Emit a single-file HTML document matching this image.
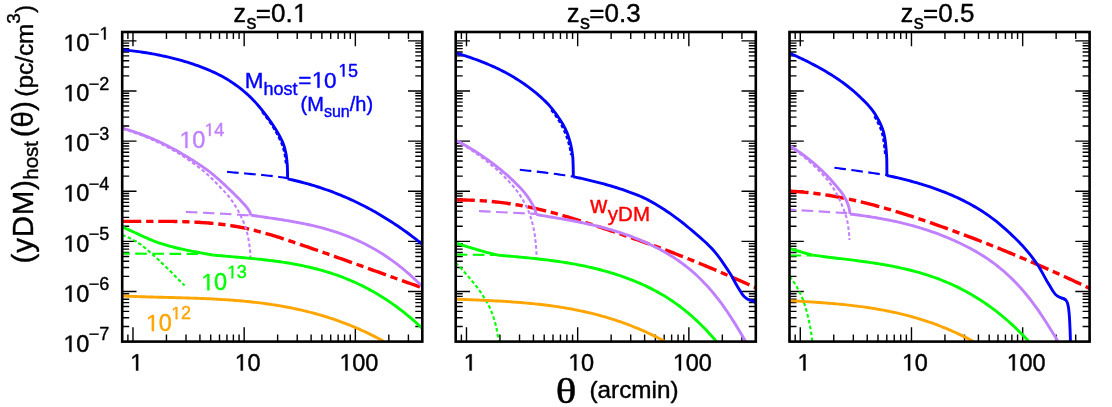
<!DOCTYPE html>
<html><head><meta charset="utf-8"><title>yDM host profiles</title>
<style>html,body{margin:0;padding:0;background:#fff;}svg{display:block;will-change:transform;}text{font-family:"Liberation Sans",sans-serif;fill:#000;stroke:#000;stroke-width:0.4px;stroke-linejoin:round;}.ser{font-family:"Liberation Serif",serif;}</style></head><body>
<svg width="1112" height="407" viewBox="0 0 1112 407">
<rect x="0" y="0" width="1112" height="407" fill="#ffffff"/>
<defs>
<clipPath id="cp0"><rect x="122.20" y="32.00" width="300.10" height="309.60"/></clipPath>
<clipPath id="cp1"><rect x="455.70" y="32.00" width="300.10" height="309.60"/></clipPath>
<clipPath id="cp2"><rect x="789.50" y="32.00" width="300.10" height="309.60"/></clipPath>
</defs>
<path d="M122.20 341.60v-7.00M122.20 32.00v7.00M127.89 341.60v-7.00M127.89 32.00v7.00M132.98 341.60v-14.30M132.98 32.00v14.30M166.45 341.60v-7.00M166.45 32.00v7.00M186.03 341.60v-7.00M186.03 32.00v7.00M199.92 341.60v-7.00M199.92 32.00v7.00M210.69 341.60v-7.00M210.69 32.00v7.00M219.50 341.60v-7.00M219.50 32.00v7.00M226.94 341.60v-7.00M226.94 32.00v7.00M233.39 341.60v-7.00M233.39 32.00v7.00M239.08 341.60v-7.00M239.08 32.00v7.00M244.17 341.60v-14.30M244.17 32.00v14.30M277.64 341.60v-7.00M277.64 32.00v7.00M297.22 341.60v-7.00M297.22 32.00v7.00M311.11 341.60v-7.00M311.11 32.00v7.00M321.88 341.60v-7.00M321.88 32.00v7.00M330.69 341.60v-7.00M330.69 32.00v7.00M338.13 341.60v-7.00M338.13 32.00v7.00M344.58 341.60v-7.00M344.58 32.00v7.00M350.27 341.60v-7.00M350.27 32.00v7.00M355.36 341.60v-14.30M355.36 32.00v14.30M388.83 341.60v-7.00M388.83 32.00v7.00M408.41 341.60v-7.00M408.41 32.00v7.00M422.30 341.60v-7.00M422.30 32.00v7.00M122.20 341.60h14.30M422.30 341.60h-14.30M122.20 326.51h7.00M422.30 326.51h-7.00M122.20 317.68h7.00M422.30 317.68h-7.00M122.20 311.42h7.00M422.30 311.42h-7.00M122.20 306.56h7.00M422.30 306.56h-7.00M122.20 302.59h7.00M422.30 302.59h-7.00M122.20 299.24h7.00M422.30 299.24h-7.00M122.20 296.33h7.00M422.30 296.33h-7.00M122.20 293.76h7.00M422.30 293.76h-7.00M122.20 291.47h14.30M422.30 291.47h-14.30M122.20 276.38h7.00M422.30 276.38h-7.00M122.20 267.55h7.00M422.30 267.55h-7.00M122.20 261.29h7.00M422.30 261.29h-7.00M122.20 256.43h7.00M422.30 256.43h-7.00M122.20 252.46h7.00M422.30 252.46h-7.00M122.20 249.11h7.00M422.30 249.11h-7.00M122.20 246.20h7.00M422.30 246.20h-7.00M122.20 243.64h7.00M422.30 243.64h-7.00M122.20 241.34h14.30M422.30 241.34h-14.30M122.20 226.25h7.00M422.30 226.25h-7.00M122.20 217.42h7.00M422.30 217.42h-7.00M122.20 211.16h7.00M422.30 211.16h-7.00M122.20 206.30h7.00M422.30 206.30h-7.00M122.20 202.33h7.00M422.30 202.33h-7.00M122.20 198.98h7.00M422.30 198.98h-7.00M122.20 196.07h7.00M422.30 196.07h-7.00M122.20 193.51h7.00M422.30 193.51h-7.00M122.20 191.21h14.30M422.30 191.21h-14.30M122.20 176.12h7.00M422.30 176.12h-7.00M122.20 167.30h7.00M422.30 167.30h-7.00M122.20 161.03h7.00M422.30 161.03h-7.00M122.20 156.18h7.00M422.30 156.18h-7.00M122.20 152.21h7.00M422.30 152.21h-7.00M122.20 148.85h7.00M422.30 148.85h-7.00M122.20 145.94h7.00M422.30 145.94h-7.00M122.20 143.38h7.00M422.30 143.38h-7.00M122.20 141.08h14.30M422.30 141.08h-14.30M122.20 125.99h7.00M422.30 125.99h-7.00M122.20 117.17h7.00M422.30 117.17h-7.00M122.20 110.90h7.00M422.30 110.90h-7.00M122.20 106.05h7.00M422.30 106.05h-7.00M122.20 102.08h7.00M422.30 102.08h-7.00M122.20 98.72h7.00M422.30 98.72h-7.00M122.20 95.81h7.00M422.30 95.81h-7.00M122.20 93.25h7.00M422.30 93.25h-7.00M122.20 90.96h14.30M422.30 90.96h-14.30M122.20 75.87h7.00M422.30 75.87h-7.00M122.20 67.04h7.00M422.30 67.04h-7.00M122.20 60.78h7.00M422.30 60.78h-7.00M122.20 55.92h7.00M422.30 55.92h-7.00M122.20 51.95h7.00M422.30 51.95h-7.00M122.20 48.59h7.00M422.30 48.59h-7.00M122.20 45.69h7.00M422.30 45.69h-7.00M122.20 43.12h7.00M422.30 43.12h-7.00M122.20 40.83h14.30M422.30 40.83h-14.30M455.70 341.60v-7.00M455.70 32.00v7.00M461.39 341.60v-7.00M461.39 32.00v7.00M466.48 341.60v-14.30M466.48 32.00v14.30M499.95 341.60v-7.00M499.95 32.00v7.00M519.53 341.60v-7.00M519.53 32.00v7.00M533.42 341.60v-7.00M533.42 32.00v7.00M544.19 341.60v-7.00M544.19 32.00v7.00M553.00 341.60v-7.00M553.00 32.00v7.00M560.44 341.60v-7.00M560.44 32.00v7.00M566.89 341.60v-7.00M566.89 32.00v7.00M572.58 341.60v-7.00M572.58 32.00v7.00M577.67 341.60v-14.30M577.67 32.00v14.30M611.14 341.60v-7.00M611.14 32.00v7.00M630.72 341.60v-7.00M630.72 32.00v7.00M644.61 341.60v-7.00M644.61 32.00v7.00M655.38 341.60v-7.00M655.38 32.00v7.00M664.19 341.60v-7.00M664.19 32.00v7.00M671.63 341.60v-7.00M671.63 32.00v7.00M678.08 341.60v-7.00M678.08 32.00v7.00M683.77 341.60v-7.00M683.77 32.00v7.00M688.86 341.60v-14.30M688.86 32.00v14.30M722.33 341.60v-7.00M722.33 32.00v7.00M741.91 341.60v-7.00M741.91 32.00v7.00M755.80 341.60v-7.00M755.80 32.00v7.00M455.70 341.60h14.30M755.80 341.60h-14.30M455.70 326.51h7.00M755.80 326.51h-7.00M455.70 317.68h7.00M755.80 317.68h-7.00M455.70 311.42h7.00M755.80 311.42h-7.00M455.70 306.56h7.00M755.80 306.56h-7.00M455.70 302.59h7.00M755.80 302.59h-7.00M455.70 299.24h7.00M755.80 299.24h-7.00M455.70 296.33h7.00M755.80 296.33h-7.00M455.70 293.76h7.00M755.80 293.76h-7.00M455.70 291.47h14.30M755.80 291.47h-14.30M455.70 276.38h7.00M755.80 276.38h-7.00M455.70 267.55h7.00M755.80 267.55h-7.00M455.70 261.29h7.00M755.80 261.29h-7.00M455.70 256.43h7.00M755.80 256.43h-7.00M455.70 252.46h7.00M755.80 252.46h-7.00M455.70 249.11h7.00M755.80 249.11h-7.00M455.70 246.20h7.00M755.80 246.20h-7.00M455.70 243.64h7.00M755.80 243.64h-7.00M455.70 241.34h14.30M755.80 241.34h-14.30M455.70 226.25h7.00M755.80 226.25h-7.00M455.70 217.42h7.00M755.80 217.42h-7.00M455.70 211.16h7.00M755.80 211.16h-7.00M455.70 206.30h7.00M755.80 206.30h-7.00M455.70 202.33h7.00M755.80 202.33h-7.00M455.70 198.98h7.00M755.80 198.98h-7.00M455.70 196.07h7.00M755.80 196.07h-7.00M455.70 193.51h7.00M755.80 193.51h-7.00M455.70 191.21h14.30M755.80 191.21h-14.30M455.70 176.12h7.00M755.80 176.12h-7.00M455.70 167.30h7.00M755.80 167.30h-7.00M455.70 161.03h7.00M755.80 161.03h-7.00M455.70 156.18h7.00M755.80 156.18h-7.00M455.70 152.21h7.00M755.80 152.21h-7.00M455.70 148.85h7.00M755.80 148.85h-7.00M455.70 145.94h7.00M755.80 145.94h-7.00M455.70 143.38h7.00M755.80 143.38h-7.00M455.70 141.08h14.30M755.80 141.08h-14.30M455.70 125.99h7.00M755.80 125.99h-7.00M455.70 117.17h7.00M755.80 117.17h-7.00M455.70 110.90h7.00M755.80 110.90h-7.00M455.70 106.05h7.00M755.80 106.05h-7.00M455.70 102.08h7.00M755.80 102.08h-7.00M455.70 98.72h7.00M755.80 98.72h-7.00M455.70 95.81h7.00M755.80 95.81h-7.00M455.70 93.25h7.00M755.80 93.25h-7.00M455.70 90.96h14.30M755.80 90.96h-14.30M455.70 75.87h7.00M755.80 75.87h-7.00M455.70 67.04h7.00M755.80 67.04h-7.00M455.70 60.78h7.00M755.80 60.78h-7.00M455.70 55.92h7.00M755.80 55.92h-7.00M455.70 51.95h7.00M755.80 51.95h-7.00M455.70 48.59h7.00M755.80 48.59h-7.00M455.70 45.69h7.00M755.80 45.69h-7.00M455.70 43.12h7.00M755.80 43.12h-7.00M455.70 40.83h14.30M755.80 40.83h-14.30M789.50 341.60v-7.00M789.50 32.00v7.00M795.19 341.60v-7.00M795.19 32.00v7.00M800.28 341.60v-14.30M800.28 32.00v14.30M833.75 341.60v-7.00M833.75 32.00v7.00M853.33 341.60v-7.00M853.33 32.00v7.00M867.22 341.60v-7.00M867.22 32.00v7.00M877.99 341.60v-7.00M877.99 32.00v7.00M886.80 341.60v-7.00M886.80 32.00v7.00M894.24 341.60v-7.00M894.24 32.00v7.00M900.69 341.60v-7.00M900.69 32.00v7.00M906.38 341.60v-7.00M906.38 32.00v7.00M911.47 341.60v-14.30M911.47 32.00v14.30M944.94 341.60v-7.00M944.94 32.00v7.00M964.52 341.60v-7.00M964.52 32.00v7.00M978.41 341.60v-7.00M978.41 32.00v7.00M989.18 341.60v-7.00M989.18 32.00v7.00M997.99 341.60v-7.00M997.99 32.00v7.00M1005.43 341.60v-7.00M1005.43 32.00v7.00M1011.88 341.60v-7.00M1011.88 32.00v7.00M1017.57 341.60v-7.00M1017.57 32.00v7.00M1022.66 341.60v-14.30M1022.66 32.00v14.30M1056.13 341.60v-7.00M1056.13 32.00v7.00M1075.71 341.60v-7.00M1075.71 32.00v7.00M1089.60 341.60v-7.00M1089.60 32.00v7.00M789.50 341.60h14.30M1089.60 341.60h-14.30M789.50 326.51h7.00M1089.60 326.51h-7.00M789.50 317.68h7.00M1089.60 317.68h-7.00M789.50 311.42h7.00M1089.60 311.42h-7.00M789.50 306.56h7.00M1089.60 306.56h-7.00M789.50 302.59h7.00M1089.60 302.59h-7.00M789.50 299.24h7.00M1089.60 299.24h-7.00M789.50 296.33h7.00M1089.60 296.33h-7.00M789.50 293.76h7.00M1089.60 293.76h-7.00M789.50 291.47h14.30M1089.60 291.47h-14.30M789.50 276.38h7.00M1089.60 276.38h-7.00M789.50 267.55h7.00M1089.60 267.55h-7.00M789.50 261.29h7.00M1089.60 261.29h-7.00M789.50 256.43h7.00M1089.60 256.43h-7.00M789.50 252.46h7.00M1089.60 252.46h-7.00M789.50 249.11h7.00M1089.60 249.11h-7.00M789.50 246.20h7.00M1089.60 246.20h-7.00M789.50 243.64h7.00M1089.60 243.64h-7.00M789.50 241.34h14.30M1089.60 241.34h-14.30M789.50 226.25h7.00M1089.60 226.25h-7.00M789.50 217.42h7.00M1089.60 217.42h-7.00M789.50 211.16h7.00M1089.60 211.16h-7.00M789.50 206.30h7.00M1089.60 206.30h-7.00M789.50 202.33h7.00M1089.60 202.33h-7.00M789.50 198.98h7.00M1089.60 198.98h-7.00M789.50 196.07h7.00M1089.60 196.07h-7.00M789.50 193.51h7.00M1089.60 193.51h-7.00M789.50 191.21h14.30M1089.60 191.21h-14.30M789.50 176.12h7.00M1089.60 176.12h-7.00M789.50 167.30h7.00M1089.60 167.30h-7.00M789.50 161.03h7.00M1089.60 161.03h-7.00M789.50 156.18h7.00M1089.60 156.18h-7.00M789.50 152.21h7.00M1089.60 152.21h-7.00M789.50 148.85h7.00M1089.60 148.85h-7.00M789.50 145.94h7.00M1089.60 145.94h-7.00M789.50 143.38h7.00M1089.60 143.38h-7.00M789.50 141.08h14.30M1089.60 141.08h-14.30M789.50 125.99h7.00M1089.60 125.99h-7.00M789.50 117.17h7.00M1089.60 117.17h-7.00M789.50 110.90h7.00M1089.60 110.90h-7.00M789.50 106.05h7.00M1089.60 106.05h-7.00M789.50 102.08h7.00M1089.60 102.08h-7.00M789.50 98.72h7.00M1089.60 98.72h-7.00M789.50 95.81h7.00M1089.60 95.81h-7.00M789.50 93.25h7.00M1089.60 93.25h-7.00M789.50 90.96h14.30M1089.60 90.96h-14.30M789.50 75.87h7.00M1089.60 75.87h-7.00M789.50 67.04h7.00M1089.60 67.04h-7.00M789.50 60.78h7.00M1089.60 60.78h-7.00M789.50 55.92h7.00M1089.60 55.92h-7.00M789.50 51.95h7.00M1089.60 51.95h-7.00M789.50 48.59h7.00M1089.60 48.59h-7.00M789.50 45.69h7.00M1089.60 45.69h-7.00M789.50 43.12h7.00M1089.60 43.12h-7.00M789.50 40.83h14.30M1089.60 40.83h-14.30" stroke="#000" stroke-width="1.4" fill="none"/>
<path d="M122.20 221.40L124.21 221.41L126.23 221.41L128.24 221.41L130.26 221.41L132.27 221.41L134.28 221.40L136.30 221.40L138.31 221.39L140.33 221.38L142.34 221.37L144.36 221.36L146.37 221.35L148.38 221.35L150.40 221.34L152.41 221.33L154.43 221.33L156.44 221.33L158.45 221.33L160.47 221.33L162.48 221.34L164.50 221.35L166.51 221.36L168.52 221.38L170.54 221.40L172.55 221.42L174.57 221.45L176.58 221.49L178.59 221.53L180.61 221.58L182.62 221.63L184.64 221.69L186.65 221.76L188.67 221.83L190.68 221.91L192.69 222.00L194.71 222.10L196.72 222.21L198.74 222.32L200.75 222.45L202.76 222.58L204.78 222.73L206.79 222.88L208.81 223.05L210.82 223.22L212.83 223.41L214.85 223.61L216.86 223.82L218.88 224.04L220.89 224.28L222.90 224.53L224.92 224.79L226.93 225.06L228.95 225.35L230.96 225.65L232.98 225.97L234.99 226.30L237.00 226.65L239.02 227.02L241.03 227.39L243.05 227.79L245.06 228.20L247.07 228.63L249.09 229.08L251.10 229.54L253.12 230.02L255.13 230.52L257.14 231.03L259.16 231.56L261.17 232.10L263.19 232.65L265.20 233.22L267.21 233.80L269.23 234.39L271.24 234.99L273.26 235.60L275.27 236.22L277.29 236.85L279.30 237.49L281.31 238.14L283.33 238.79L285.34 239.45L287.36 240.12L289.37 240.79L291.38 241.46L293.40 242.14L295.41 242.82L297.43 243.50L299.44 244.19L301.45 244.88L303.47 245.57L305.48 246.26L307.50 246.95L309.51 247.65L311.52 248.34L313.54 249.04L315.55 249.74L317.57 250.44L319.58 251.15L321.60 251.85L323.61 252.56L325.62 253.27L327.64 253.97L329.65 254.68L331.67 255.40L333.68 256.11L335.69 256.82L337.71 257.54L339.72 258.25L341.74 258.97L343.75 259.69L345.76 260.41L347.78 261.13L349.79 261.85L351.81 262.57L353.82 263.29L355.83 264.01L357.85 264.73L359.86 265.46L361.88 266.18L363.89 266.90L365.91 267.63L367.92 268.35L369.93 269.08L371.95 269.80L373.96 270.53L375.98 271.25L377.99 271.97L380.00 272.70L382.02 273.42L384.03 274.15L386.05 274.87L388.06 275.59L390.07 276.32L392.09 277.04L394.10 277.76L396.12 278.48L398.13 279.20L400.14 279.93L402.16 280.64L404.17 281.36L406.19 282.08L408.20 282.80L410.22 283.51L412.23 284.23L414.24 284.94L416.26 285.66L418.27 286.37L420.29 287.08L422.30 287.79" fill="none" stroke="#ff0000" stroke-width="3.4" stroke-dasharray="19.1 4.85 7.3 4.85" stroke-linejoin="round" clip-path="url(#cp0)"/>
<path d="M455.70 200.00L457.72 199.99L459.73 199.99L461.75 200.00L463.76 200.03L465.78 200.06L467.79 200.11L469.81 200.16L471.82 200.23L473.84 200.31L475.85 200.40L477.87 200.51L479.89 200.62L481.90 200.75L483.92 200.88L485.93 201.03L487.95 201.19L489.96 201.37L491.98 201.55L493.99 201.75L496.01 201.96L498.02 202.18L500.04 202.41L502.06 202.65L504.07 202.91L506.09 203.18L508.10 203.46L510.12 203.75L512.13 204.05L514.15 204.37L516.16 204.70L518.18 205.04L520.19 205.39L522.21 205.75L524.22 206.13L526.24 206.52L528.26 206.92L530.27 207.33L532.29 207.76L534.30 208.20L536.32 208.65L538.33 209.11L540.35 209.58L542.36 210.06L544.38 210.56L546.39 211.06L548.41 211.58L550.43 212.10L552.44 212.64L554.46 213.18L556.47 213.73L558.49 214.29L560.50 214.86L562.52 215.43L564.53 216.02L566.55 216.61L568.56 217.21L570.58 217.81L572.60 218.42L574.61 219.04L576.63 219.66L578.64 220.29L580.66 220.92L582.67 221.56L584.69 222.20L586.70 222.85L588.72 223.50L590.73 224.15L592.75 224.81L594.77 225.47L596.78 226.13L598.80 226.79L600.81 227.46L602.83 228.13L604.84 228.80L606.86 229.47L608.87 230.14L610.89 230.81L612.90 231.49L614.92 232.17L616.93 232.84L618.95 233.52L620.97 234.21L622.98 234.89L625.00 235.58L627.01 236.26L629.03 236.96L631.04 237.65L633.06 238.34L635.07 239.04L637.09 239.74L639.10 240.45L641.12 241.16L643.14 241.87L645.15 242.58L647.17 243.30L649.18 244.02L651.20 244.74L653.21 245.47L655.23 246.20L657.24 246.93L659.26 247.67L661.27 248.42L663.29 249.16L665.31 249.91L667.32 250.67L669.34 251.43L671.35 252.19L673.37 252.96L675.38 253.74L677.40 254.51L679.41 255.30L681.43 256.08L683.44 256.88L685.46 257.67L687.48 258.48L689.49 259.28L691.51 260.09L693.52 260.91L695.54 261.73L697.55 262.55L699.57 263.38L701.58 264.21L703.60 265.05L705.61 265.89L707.63 266.73L709.64 267.58L711.66 268.43L713.68 269.28L715.69 270.14L717.71 271.00L719.72 271.87L721.74 272.73L723.75 273.60L725.77 274.47L727.78 275.35L729.80 276.22L731.81 277.10L733.83 277.98L735.85 278.87L737.86 279.75L739.88 280.64L741.89 281.53L743.91 282.42L745.92 283.32L747.94 284.21L749.95 285.11L751.97 286.01L753.98 286.90L756.00 287.80" fill="none" stroke="#ff0000" stroke-width="3.4" stroke-dasharray="19.1 4.85 7.3 4.85" stroke-linejoin="round" clip-path="url(#cp1)"/>
<path d="M789.50 191.19L791.51 191.29L793.53 191.40L795.54 191.53L797.56 191.67L799.57 191.82L801.58 191.99L803.60 192.16L805.61 192.35L807.63 192.55L809.64 192.77L811.66 192.99L813.67 193.23L815.68 193.48L817.70 193.74L819.71 194.01L821.73 194.30L823.74 194.59L825.75 194.90L827.77 195.22L829.78 195.54L831.80 195.88L833.81 196.23L835.82 196.59L837.84 196.96L839.85 197.34L841.87 197.73L843.88 198.13L845.89 198.54L847.91 198.96L849.92 199.39L851.94 199.82L853.95 200.27L855.97 200.73L857.98 201.19L859.99 201.66L862.01 202.15L864.02 202.64L866.04 203.14L868.05 203.64L870.06 204.16L872.08 204.68L874.09 205.21L876.11 205.75L878.12 206.30L880.13 206.85L882.15 207.41L884.16 207.98L886.18 208.56L888.19 209.14L890.20 209.73L892.22 210.32L894.23 210.93L896.25 211.53L898.26 212.15L900.28 212.77L902.29 213.40L904.30 214.03L906.32 214.67L908.33 215.31L910.35 215.96L912.36 216.61L914.37 217.27L916.39 217.94L918.40 218.61L920.42 219.28L922.43 219.96L924.44 220.65L926.46 221.33L928.47 222.03L930.49 222.72L932.50 223.42L934.51 224.13L936.53 224.83L938.54 225.54L940.56 226.26L942.57 226.98L944.59 227.70L946.60 228.42L948.61 229.15L950.63 229.88L952.64 230.62L954.66 231.36L956.67 232.10L958.68 232.84L960.70 233.59L962.71 234.34L964.73 235.10L966.74 235.86L968.75 236.62L970.77 237.39L972.78 238.15L974.80 238.93L976.81 239.70L978.82 240.48L980.84 241.26L982.85 242.05L984.87 242.84L986.88 243.63L988.90 244.43L990.91 245.23L992.92 246.03L994.94 246.83L996.95 247.64L998.97 248.45L1000.98 249.27L1002.99 250.09L1005.01 250.91L1007.02 251.73L1009.04 252.56L1011.05 253.39L1013.06 254.23L1015.08 255.07L1017.09 255.91L1019.11 256.75L1021.12 257.60L1023.13 258.45L1025.15 259.31L1027.16 260.16L1029.18 261.02L1031.19 261.89L1033.21 262.75L1035.22 263.62L1037.23 264.50L1039.25 265.37L1041.26 266.25L1043.28 267.14L1045.29 268.02L1047.30 268.91L1049.32 269.80L1051.33 270.70L1053.35 271.60L1055.36 272.50L1057.37 273.41L1059.39 274.31L1061.40 275.22L1063.42 276.14L1065.43 277.06L1067.44 277.98L1069.46 278.90L1071.47 279.83L1073.49 280.76L1075.50 281.69L1077.52 282.62L1079.53 283.56L1081.54 284.50L1083.56 285.45L1085.57 286.40L1087.59 287.35L1089.60 288.30" fill="none" stroke="#ff0000" stroke-width="3.4" stroke-dasharray="19.1 4.85 7.3 4.85" stroke-linejoin="round" clip-path="url(#cp2)"/>
<path d="M122.20 49.80L124.23 49.98L126.26 50.18L128.28 50.39L130.31 50.61L132.33 50.85L134.35 51.10L136.37 51.36L138.38 51.63L140.40 51.91L142.41 52.19L144.42 52.49L146.43 52.80L148.43 53.12L150.44 53.45L152.44 53.81L154.44 54.18L156.45 54.56L158.44 54.96L160.44 55.37L162.43 55.80L164.42 56.23L166.41 56.68L168.39 57.14L170.37 57.60L172.34 58.08L174.31 58.57L176.28 59.08L178.25 59.60L180.21 60.14L182.18 60.70L184.14 61.27L186.09 61.86L188.04 62.46L189.98 63.08L191.91 63.71L193.84 64.36L195.76 65.02L197.67 65.70L199.57 66.39L201.48 67.10L203.39 67.83L205.29 68.59L207.19 69.36L209.08 70.15L210.96 70.97L212.83 71.80L214.68 72.66L216.52 73.54L218.35 74.44L220.15 75.36L221.92 76.30L223.68 77.27L225.42 78.27L227.16 79.30L228.90 80.37L230.62 81.48L232.33 82.61L234.03 83.77L235.71 84.96L237.38 86.17L239.03 87.41L240.65 88.67L242.25 89.95L243.83 91.25L245.38 92.56L246.90 93.89L248.39 95.24L249.85 96.60L251.28 97.99L252.70 99.42L254.09 100.89L255.47 102.38L256.83 103.90L258.16 105.45L259.48 107.02L260.79 108.61L262.07 110.21L263.34 111.83L264.59 113.46L265.83 115.10L267.05 116.74L268.26 118.39L269.45 120.03L270.63 121.68L271.79 123.34L272.95 125.02L274.08 126.72L275.18 128.44L276.26 130.18L277.30 131.93L278.30 133.70L279.25 135.48L280.21 137.28L281.15 139.11L282.05 140.96L282.88 142.82L283.62 144.71L284.24 146.62L284.77 148.57L285.26 150.54L285.71 152.54L286.10 154.55L286.42 156.57L286.67 158.58L286.88 160.60L287.07 162.63L287.23 164.66L287.35 166.70L287.42 168.73L287.48 170.76L287.53 172.79L287.57 174.83L287.59 176.86L287.60 178.90" fill="none" stroke="#0000ff" stroke-width="2.9" stroke-linejoin="round" clip-path="url(#cp0)"/>
<path d="M287.60 178.90L289.64 179.34L291.68 179.79L293.72 180.26L295.76 180.74L297.80 181.23L299.85 181.74L301.89 182.27L303.93 182.80L305.97 183.36L308.01 183.93L310.05 184.51L312.09 185.11L314.13 185.73L316.17 186.36L318.21 187.00L320.25 187.67L322.30 188.34L324.34 189.04L326.38 189.75L328.42 190.48L330.46 191.22L332.50 191.98L334.54 192.76L336.58 193.56L338.62 194.37L340.66 195.20L342.70 196.04L344.75 196.91L346.79 197.79L348.83 198.69L350.87 199.61L352.91 200.55L354.95 201.50L356.99 202.48L359.03 203.47L361.07 204.48L363.11 205.51L365.15 206.56L367.20 207.63L369.24 208.72L371.28 209.83L373.32 210.95L375.36 212.10L377.40 213.27L379.44 214.46L381.48 215.66L383.52 216.89L385.56 218.14L387.60 219.41L389.65 220.70L391.69 222.01L393.73 223.34L395.77 224.70L397.81 226.07L399.85 227.47L401.89 228.89L403.93 230.33L405.97 231.79L408.01 233.27L410.05 234.78L412.10 236.31L414.14 237.86L416.18 239.43L418.22 241.03L420.26 242.65L422.30 244.30" fill="none" stroke="#0000ff" stroke-width="2.9" stroke-linejoin="round" clip-path="url(#cp0)"/>
<path d="M227.10 171.90L229.19 172.07L231.27 172.25L233.36 172.43L235.44 172.61L237.53 172.79L239.62 172.97L241.70 173.15L243.79 173.34L245.88 173.53L247.96 173.71L250.05 173.90L252.13 174.09L254.22 174.28L256.31 174.46L258.39 174.65L260.48 174.84L262.57 175.04L264.65 175.24L266.74 175.45L268.82 175.67L270.91 175.90L273.00 176.15L275.08 176.41L277.17 176.68L279.26 176.97L281.34 177.26L283.43 177.57L285.51 177.88L287.60 178.20" fill="none" stroke="#0000ff" stroke-width="2.1" stroke-dasharray="11.6 5.5" stroke-linejoin="round" clip-path="url(#cp0)"/>
<path d="M262.00 112.00L263.36 113.65L264.70 115.32L266.01 117.00L267.28 118.71L268.52 120.44L269.73 122.19L270.91 123.96L272.07 125.74L273.21 127.55L274.33 129.38L275.42 131.22L276.47 133.08L277.47 134.96L278.42 136.85L279.35 138.76L280.27 140.70L281.14 142.66L281.94 144.65L282.65 146.65L283.25 148.68L283.79 150.73L284.28 152.82L284.71 154.91L285.06 157.02L285.34 159.13L285.58 161.24L285.77 163.37L285.90 165.50" fill="none" stroke="#0000ff" stroke-width="2.1" stroke-dasharray="3.6 2.4" stroke-linejoin="round" clip-path="url(#cp0)"/>
<path d="M122.20 128.20L124.16 128.75L126.12 129.31L128.06 129.89L130.01 130.48L131.94 131.10L133.87 131.73L135.80 132.37L137.72 133.03L139.63 133.71L141.53 134.40L143.44 135.12L145.33 135.85L147.22 136.60L149.11 137.37L150.98 138.15L152.85 138.95L154.72 139.76L156.57 140.58L158.42 141.41L160.26 142.27L162.10 143.14L163.93 144.03L165.75 144.93L167.56 145.85L169.37 146.78L171.17 147.72L172.96 148.67L174.75 149.64L176.53 150.61L178.30 151.60L180.06 152.61L181.82 153.63L183.57 154.67L185.31 155.71L187.05 156.77L188.78 157.84L190.50 158.91L192.22 160.00L193.93 161.09L195.65 162.18L197.36 163.28L199.06 164.40L200.76 165.52L202.45 166.66L204.12 167.82L205.78 168.99L207.42 170.18L209.04 171.39L210.64 172.63L212.22 173.89L213.78 175.18L215.33 176.49L216.87 177.82L218.39 179.17L219.91 180.53L221.41 181.90L222.91 183.28L224.40 184.67L225.88 186.07L227.36 187.46L228.83 188.86L230.31 190.26L231.77 191.66L233.23 193.07L234.68 194.50L236.12 195.93L237.55 197.38L238.96 198.84L240.36 200.31L241.75 201.79L243.15 203.28L244.55 204.77L245.90 206.30L247.18 207.87L248.35 209.51L249.48 211.24L250.21 213.09L250.60 215.10" fill="none" stroke="#c080ff" stroke-width="2.9" stroke-linejoin="round" clip-path="url(#cp0)"/>
<path d="M250.60 215.10L252.64 215.40L254.69 215.71L256.73 216.01L258.78 216.31L260.82 216.61L262.86 216.91L264.91 217.21L266.95 217.51L269.00 217.81L271.04 218.12L273.08 218.42L275.13 218.73L277.17 219.04L279.22 219.35L281.26 219.67L283.30 220.00L285.35 220.33L287.39 220.67L289.44 221.01L291.48 221.36L293.52 221.72L295.57 222.09L297.61 222.47L299.66 222.86L301.70 223.26L303.75 223.67L305.79 224.09L307.83 224.52L309.88 224.97L311.92 225.43L313.97 225.91L316.01 226.39L318.05 226.90L320.10 227.42L322.14 227.95L324.19 228.51L326.23 229.08L328.27 229.67L330.32 230.28L332.36 230.90L334.41 231.55L336.45 232.22L338.49 232.91L340.54 233.62L342.58 234.35L344.63 235.11L346.67 235.89L348.71 236.69L350.76 237.52L352.80 238.37L354.85 239.25L356.89 240.15L358.93 241.09L360.98 242.05L363.02 243.03L365.07 244.05L367.11 245.10L369.15 246.17L371.20 247.28L373.24 248.42L375.29 249.59L377.33 250.79L379.38 252.02L381.42 253.29L383.46 254.59L385.51 255.93L387.55 257.30L389.60 258.71L391.64 260.16L393.68 261.64L395.73 263.16L397.77 264.71L399.82 266.31L401.86 267.95L403.90 269.62L405.95 271.34L407.99 273.09L410.04 274.89L412.08 276.73L414.12 278.62L416.17 280.54L418.21 282.51L420.26 284.53L422.30 286.59" fill="none" stroke="#c080ff" stroke-width="2.9" stroke-linejoin="round" clip-path="url(#cp0)"/>
<path d="M122.20 128.80L124.16 129.37L126.12 129.95L128.07 130.56L130.01 131.18L131.95 131.81L133.88 132.47L135.80 133.14L137.71 133.82L139.62 134.53L141.53 135.25L143.42 135.99L145.32 136.75L147.20 137.53L149.08 138.33L150.96 139.14L152.82 139.97L154.68 140.81L156.52 141.66L158.37 142.52L160.20 143.41L162.03 144.31L163.86 145.22L165.67 146.16L167.48 147.11L169.28 148.07L171.07 149.06L172.84 150.05L174.61 151.06L176.36 152.09L178.11 153.13L179.85 154.20L181.58 155.28L183.30 156.38L185.01 157.50L186.71 158.63L188.40 159.78L190.08 160.94L191.74 162.11L193.39 163.30L195.03 164.50L196.66 165.72L198.28 166.96L199.89 168.22L201.49 169.49L203.08 170.78L204.65 172.09L206.20 173.41L207.74 174.74L209.26 176.10L210.75 177.47L212.22 178.88L213.66 180.31L215.09 181.77L216.51 183.25L217.91 184.73L219.32 186.21L220.72 187.68L222.14 189.16L223.55 190.64L224.95 192.13L226.32 193.64L227.66 195.18L228.94 196.74L230.18 198.35L231.39 199.99L232.57 201.66L233.71 203.35L234.83 205.07L235.91 206.80L236.94 208.55L237.94 210.32L238.90 212.12L239.82 213.94L240.72 215.78L241.57 217.63L242.41 219.49L243.23 221.35L244.05 223.24L244.81 225.13L245.51 227.04L246.11 228.98L246.65 230.93L247.15 232.91L247.61 234.90L248.03 236.90L248.41 238.91L248.75 240.92L249.07 242.93L249.37 244.95L249.65 246.97L249.90 249.00L250.11 251.03L250.27 253.06L250.38 255.09L250.48 257.12L250.56 259.16L250.60 261.20" fill="none" stroke="#c080ff" stroke-width="2.1" stroke-dasharray="3.6 2.4" stroke-linejoin="round" clip-path="url(#cp0)"/>
<path d="M185.80 211.90L187.89 211.99L189.98 212.08L192.07 212.18L194.16 212.28L196.25 212.37L198.34 212.47L200.43 212.58L202.52 212.68L204.61 212.78L206.70 212.89L208.79 213.00L210.88 213.11L212.97 213.22L215.06 213.33L217.15 213.44L219.25 213.56L221.34 213.67L223.43 213.79L225.52 213.91L227.61 214.03L229.70 214.16L231.79 214.29L233.88 214.41L235.97 214.54L238.06 214.68L240.15 214.81L242.24 214.94L244.33 215.08L246.42 215.22L248.51 215.36L250.60 215.50" fill="none" stroke="#c080ff" stroke-width="2.1" stroke-dasharray="11.6 5.5" stroke-linejoin="round" clip-path="url(#cp0)"/>
<path d="M122.20 226.90L124.27 227.82L126.34 228.74L128.40 229.67L130.47 230.60L132.54 231.54L134.61 232.49L136.68 233.43L138.75 234.38L140.81 235.35L142.88 236.32L144.95 237.27L147.02 238.19L149.09 239.07L151.15 239.93L153.22 240.77L155.29 241.57L157.36 242.32L159.43 243.03L161.50 243.71L163.56 244.35L165.63 244.97L167.70 245.57L169.77 246.15L171.84 246.70L173.90 247.23L175.97 247.75L178.04 248.25L180.11 248.74L182.18 249.21L184.25 249.66L186.31 250.10L188.38 250.52L190.45 250.91L192.52 251.30L194.59 251.67L196.65 252.05L198.72 252.44L200.79 252.83L202.86 253.22L204.93 253.60L207.00 253.98L209.06 254.36L211.13 254.73L213.20 255.10" fill="none" stroke="#00ff00" stroke-width="2.9" stroke-linejoin="round" clip-path="url(#cp0)"/>
<path d="M213.20 255.09L215.23 255.27L217.26 255.45L219.29 255.63L221.32 255.81L223.35 255.98L225.38 256.15L227.41 256.33L229.44 256.50L231.47 256.67L233.50 256.84L235.53 257.02L237.56 257.19L239.59 257.37L241.62 257.54L243.65 257.72L245.68 257.91L247.71 258.09L249.74 258.28L251.77 258.47L253.80 258.67L255.83 258.87L257.86 259.08L259.89 259.29L261.92 259.51L263.95 259.73L265.98 259.96L268.01 260.20L270.04 260.44L272.07 260.70L274.10 260.96L276.13 261.23L278.16 261.51L280.19 261.79L282.22 262.09L284.25 262.40L286.28 262.72L288.31 263.04L290.34 263.38L292.37 263.74L294.40 264.10L296.43 264.48L298.46 264.86L300.49 265.27L302.52 265.68L304.55 266.11L306.58 266.56L308.61 267.02L310.64 267.49L312.67 267.98L314.70 268.48L316.73 269.01L318.77 269.55L320.80 270.10L322.83 270.67L324.86 271.27L326.89 271.88L328.92 272.50L330.95 273.15L332.98 273.82L335.01 274.50L337.04 275.21L339.07 275.94L341.10 276.69L343.13 277.46L345.16 278.25L347.19 279.06L349.22 279.90L351.25 280.76L353.28 281.64L355.31 282.55L357.34 283.48L359.37 284.44L361.40 285.42L363.43 286.42L365.46 287.46L367.49 288.51L369.52 289.60L371.55 290.71L373.58 291.85L375.61 293.01L377.64 294.21L379.67 295.43L381.70 296.68L383.73 297.96L385.76 299.27L387.79 300.62L389.82 301.99L391.85 303.39L393.88 304.82L395.91 306.29L397.94 307.78L399.97 309.31L402.00 310.87L404.03 312.47L406.06 314.10L408.09 315.76L410.12 317.46L412.15 319.19L414.18 320.95L416.21 322.76L418.24 324.60L420.27 326.47L422.30 328.38" fill="none" stroke="#00ff00" stroke-width="2.9" stroke-linejoin="round" clip-path="url(#cp0)"/>
<path d="M122.20 253.60L202.60 254.00" fill="none" stroke="#00ff00" stroke-width="2.1" stroke-dasharray="11.6 5.5" stroke-dashoffset="4.0" stroke-linejoin="round" clip-path="url(#cp0)"/>
<path d="M122.20 234.90L124.14 235.66L126.06 236.47L127.95 237.31L129.83 238.20L131.70 239.12L133.55 240.08L135.37 241.09L137.15 242.15L138.87 243.27L140.56 244.46L142.22 245.70L143.86 246.99L145.47 248.31L147.07 249.66L148.65 251.03L150.22 252.40L151.79 253.77L153.36 255.14L154.91 256.52L156.44 257.91L157.97 259.33L159.48 260.75L160.99 262.19L162.49 263.63L163.98 265.08L165.47 266.52L166.97 267.97L168.45 269.42L169.94 270.87L171.41 272.34L172.88 273.80L174.35 275.28L175.82 276.75L177.28 278.23L178.74 279.70L180.20 281.18L181.66 282.66L183.13 284.13L184.60 285.60" fill="none" stroke="#00ff00" stroke-width="2.1" stroke-dasharray="3.6 2.4" stroke-linejoin="round" clip-path="url(#cp0)"/>
<path d="M122.20 296.00L124.23 296.09L126.25 296.17L128.28 296.26L130.30 296.34L132.33 296.41L134.35 296.49L136.38 296.56L138.40 296.63L140.43 296.69L142.46 296.76L144.48 296.82L146.51 296.88L148.53 296.94L150.56 296.99L152.58 297.05L154.61 297.10L156.63 297.15L158.66 297.21L160.69 297.26L162.71 297.31L164.74 297.36L166.76 297.41L168.79 297.46L170.81 297.52L172.84 297.57L174.87 297.62L176.89 297.68L178.92 297.73L180.94 297.79L182.97 297.84L184.99 297.90L187.02 297.96L189.04 298.03L191.07 298.09L193.10 298.16L195.12 298.23L197.15 298.30L199.17 298.38L201.20 298.46L203.22 298.54L205.25 298.63L207.27 298.71L209.30 298.81L211.33 298.90L213.35 299.01L215.38 299.11L217.40 299.22L219.43 299.34L221.45 299.46L223.48 299.58L225.50 299.71L227.53 299.85L229.56 299.99L231.58 300.13L233.61 300.29L235.63 300.45L237.66 300.61L239.68 300.79L241.71 300.96L243.73 301.15L245.76 301.34L247.79 301.54L249.81 301.75L251.84 301.97L253.86 302.19L255.89 302.42L257.91 302.66L259.94 302.91L261.97 303.17L263.99 303.43L266.02 303.71L268.04 303.99L270.07 304.28L272.09 304.58L274.12 304.90L276.14 305.22L278.17 305.55L280.20 305.89L282.22 306.24L284.25 306.61L286.27 306.98L288.30 307.37L290.32 307.76L292.35 308.17L294.37 308.59L296.40 309.02L298.43 309.46L300.45 309.91L302.48 310.38L304.50 310.86L306.53 311.35L308.55 311.86L310.58 312.37L312.60 312.90L314.63 313.45L316.66 314.01L318.68 314.58L320.71 315.16L322.73 315.76L324.76 316.37L326.78 317.00L328.81 317.64L330.83 318.30L332.86 318.97L334.89 319.66L336.91 320.36L338.94 321.08L340.96 321.82L342.99 322.57L345.01 323.33L347.04 324.12L349.07 324.91L351.09 325.73L353.12 326.56L355.14 327.41L357.17 328.28L359.19 329.16L361.22 330.06L363.24 330.98L365.27 331.92L367.30 332.87L369.32 333.85L371.35 334.84L373.37 335.85L375.40 336.88L377.42 337.93L379.45 339.00L381.47 340.08L383.50 341.19" fill="none" stroke="#ffa500" stroke-width="2.9" stroke-linejoin="round" clip-path="url(#cp0)"/>
<path d="M455.70 52.90L457.67 53.47L459.63 54.06L461.59 54.66L463.54 55.27L465.49 55.90L467.43 56.54L469.36 57.20L471.29 57.87L473.21 58.55L475.13 59.25L477.04 59.95L478.95 60.67L480.85 61.40L482.75 62.15L484.64 62.91L486.54 63.69L488.43 64.48L490.31 65.28L492.19 66.10L494.07 66.94L495.93 67.79L497.78 68.67L499.62 69.55L501.45 70.46L503.26 71.38L505.06 72.32L506.85 73.27L508.63 74.25L510.41 75.26L512.18 76.29L513.94 77.34L515.70 78.41L517.44 79.50L519.17 80.61L520.89 81.74L522.59 82.88L524.28 84.05L525.95 85.23L527.60 86.43L529.24 87.64L530.85 88.87L532.44 90.11L534.03 91.38L535.62 92.67L537.21 93.99L538.78 95.33L540.34 96.69L541.88 98.08L543.40 99.48L544.88 100.91L546.34 102.37L547.76 103.84L549.13 105.33L550.46 106.85L551.75 108.39L552.99 109.95L554.23 111.54L555.47 113.17L556.69 114.83L557.89 116.52L559.06 118.23L560.21 119.97L561.32 121.73L562.40 123.51L563.42 125.31L564.40 127.12L565.32 128.95L566.18 130.79L566.97 132.64L567.69 134.50L568.37 136.40L569.01 138.34L569.61 140.30L570.17 142.29L570.67 144.29L571.10 146.30L571.47 148.30L571.81 150.31L572.13 152.33L572.42 154.36L572.67 156.39L572.87 158.43L572.99 160.47L573.05 162.50L573.12 164.54L573.17 166.58L573.21 168.62L573.25 170.66L573.28 172.70L573.29 174.75L573.30 176.80" fill="none" stroke="#0000ff" stroke-width="2.9" stroke-linejoin="round" clip-path="url(#cp1)"/>
<path d="M573.30 176.80L575.33 177.19L577.36 177.60L579.39 178.02L581.42 178.45L583.45 178.89L585.48 179.35L587.51 179.82L589.54 180.30L591.57 180.79L593.60 181.29L595.63 181.80L597.66 182.32L599.69 182.85L601.72 183.39L603.75 183.93L605.78 184.49L607.81 185.06L609.84 185.65L611.87 186.25L613.90 186.87L615.93 187.50L617.96 188.15L619.99 188.81L622.02 189.49L624.05 190.18L626.08 190.88L628.11 191.60L630.14 192.32L632.17 193.07L634.20 193.83L636.23 194.61L638.26 195.43L640.29 196.28L642.32 197.16L644.35 198.08L646.38 199.06L648.41 200.12L650.44 201.23L652.47 202.38L654.50 203.56L656.53 204.75L658.56 205.97L660.59 207.23L662.62 208.51L664.65 209.83L666.68 211.17L668.71 212.53L670.74 213.93L672.77 215.36L674.80 216.83L676.83 218.32L678.86 219.85L680.89 221.41L682.92 222.99L684.95 224.63L686.98 226.30L689.01 228.00L691.04 229.71L693.07 231.42L695.10 233.14L697.13 234.88L699.16 236.64L701.19 238.43L703.22 240.22L705.25 242.03L707.28 243.91L709.31 245.92L711.34 248.04L713.37 250.28L715.40 252.63L717.43 255.11L719.46 257.78L721.49 260.65L723.52 263.61L725.55 266.57L727.58 269.59L729.61 272.73L731.64 276.10L733.67 279.78L735.70 283.52L737.73 287.04L739.76 290.34L741.79 293.58L743.82 296.24L745.85 298.01L747.88 299.36L749.91 300.23L751.94 300.62L753.97 301.25L756.00 303.50" fill="none" stroke="#0000ff" stroke-width="2.9" stroke-linejoin="round" clip-path="url(#cp1)"/>
<path d="M519.80 169.80L521.94 170.01L524.08 170.23L526.22 170.45L528.36 170.67L530.50 170.90L532.64 171.14L534.78 171.38L536.92 171.63L539.06 171.88L541.20 172.14L543.34 172.40L545.48 172.66L547.62 172.93L549.76 173.21L551.90 173.49L554.04 173.77L556.18 174.07L558.32 174.37L560.46 174.67L562.60 174.98L564.74 175.29L566.88 175.61L569.02 175.94L571.16 176.27L573.30 176.60" fill="none" stroke="#0000ff" stroke-width="2.1" stroke-dasharray="11.6 5.5" stroke-linejoin="round" clip-path="url(#cp1)"/>
<path d="M551.20 110.00L552.59 111.74L553.93 113.50L555.23 115.28L556.47 117.09L557.67 118.92L558.83 120.77L559.93 122.63L560.98 124.52L561.99 126.42L562.95 128.34L563.86 130.27L564.72 132.22L565.53 134.18L566.29 136.16L567.00 138.18L567.67 140.23L568.30 142.31L568.88 144.41L569.41 146.51L569.88 148.62L570.31 150.73L570.68 152.86L571.00 155.00" fill="none" stroke="#0000ff" stroke-width="2.1" stroke-dasharray="3.6 2.4" stroke-linejoin="round" clip-path="url(#cp1)"/>
<path d="M455.70 140.20L457.52 141.14L459.33 142.10L461.13 143.07L462.92 144.06L464.70 145.06L466.47 146.07L468.24 147.09L469.99 148.13L471.74 149.19L473.47 150.25L475.20 151.33L476.91 152.42L478.61 153.52L480.31 154.64L482.00 155.77L483.67 156.92L485.35 158.08L487.01 159.26L488.67 160.45L490.32 161.66L491.96 162.88L493.59 164.11L495.21 165.36L496.82 166.61L498.42 167.88L500.01 169.16L501.60 170.45L503.16 171.75L504.72 173.06L506.27 174.37L507.80 175.71L509.32 177.08L510.81 178.46L512.30 179.87L513.77 181.28L515.22 182.72L516.66 184.16L518.09 185.61L519.52 187.07L520.93 188.55L522.31 190.06L523.65 191.59L524.93 193.16L526.17 194.77L527.37 196.42L528.54 198.10L529.67 199.81L530.74 201.55L531.77 203.30L532.78 205.08L533.75 206.89L534.60 208.74L535.28 210.64L535.85 212.60L536.30 214.60" fill="none" stroke="#c080ff" stroke-width="2.9" stroke-linejoin="round" clip-path="url(#cp1)"/>
<path d="M536.30 214.59L538.33 214.93L540.36 215.27L542.40 215.60L544.43 215.94L546.46 216.27L548.49 216.61L550.52 216.95L552.56 217.29L554.59 217.63L556.62 217.98L558.65 218.33L560.68 218.68L562.72 219.03L564.75 219.40L566.78 219.76L568.81 220.13L570.84 220.51L572.88 220.89L574.91 221.28L576.94 221.68L578.97 222.08L581.00 222.50L583.04 222.92L585.07 223.35L587.10 223.79L589.13 224.24L591.17 224.70L593.20 225.17L595.23 225.65L597.26 226.14L599.29 226.65L601.33 227.16L603.36 227.70L605.39 228.24L607.42 228.80L609.45 229.37L611.49 229.95L613.52 230.56L615.55 231.17L617.58 231.81L619.61 232.46L621.65 233.12L623.68 233.81L625.71 234.51L627.74 235.23L629.77 235.97L631.81 236.72L633.84 237.50L635.87 238.30L637.90 239.12L639.93 239.95L641.97 240.81L644.00 241.70L646.03 242.60L648.06 243.53L650.09 244.47L652.13 245.45L654.16 246.44L656.19 247.47L658.22 248.51L660.25 249.59L662.29 250.69L664.32 251.82L666.35 252.99L668.38 254.19L670.41 255.42L672.45 256.69L674.48 258.01L676.51 259.36L678.54 260.76L680.57 262.20L682.61 263.68L684.64 265.22L686.67 266.81L688.70 268.44L690.73 270.14L692.77 271.88L694.80 273.69L696.83 275.55L698.86 277.47L700.90 279.46L702.93 281.51L704.96 283.63L706.99 285.81L709.02 288.07L711.06 290.39L713.09 292.79L715.12 295.27L717.15 297.82L719.18 300.44L721.22 303.15L723.25 305.94L725.28 308.82L727.31 311.78L729.34 314.82L731.38 317.93L733.41 321.12L735.44 324.37L737.47 327.68L739.50 331.04L741.54 334.46L743.57 337.92L745.60 341.41" fill="none" stroke="#c080ff" stroke-width="2.9" stroke-linejoin="round" clip-path="url(#cp1)"/>
<path d="M455.70 140.80L457.50 141.79L459.29 142.80L461.08 143.82L462.85 144.86L464.61 145.91L466.35 146.98L468.09 148.06L469.81 149.16L471.53 150.28L473.23 151.40L474.91 152.55L476.59 153.71L478.24 154.88L479.89 156.07L481.53 157.27L483.16 158.49L484.79 159.72L486.42 160.97L488.03 162.24L489.64 163.53L491.23 164.83L492.82 166.14L494.38 167.47L495.94 168.82L497.47 170.18L498.99 171.56L500.49 172.95L501.96 174.36L503.41 175.78L504.84 177.22L506.25 178.67L507.65 180.15L509.05 181.64L510.43 183.17L511.81 184.71L513.16 186.27L514.49 187.86L515.78 189.47L517.04 191.10L518.26 192.74L519.43 194.41L520.55 196.10L521.60 197.80L522.62 199.54L523.63 201.31L524.62 203.11L525.58 204.93L526.50 206.79L527.39 208.66L528.23 210.55L529.01 212.45L529.74 214.37L530.39 216.29L530.98 218.21L531.54 220.15L532.08 222.12L532.59 224.10L533.08 226.10L533.53 228.10L533.96 230.12L534.34 232.14L534.67 234.17L534.96 236.19L535.20 238.22L535.41 240.24L535.62 242.26L535.81 244.29L536.00 246.32L536.16 248.36L536.31 250.40L536.43 252.44L536.52 254.49L536.58 256.54L536.60 258.60" fill="none" stroke="#c080ff" stroke-width="2.1" stroke-dasharray="3.6 2.4" stroke-linejoin="round" clip-path="url(#cp1)"/>
<path d="M479.00 211.10L536.30 213.90" fill="none" stroke="#c080ff" stroke-width="2.1" stroke-dasharray="11.6 5.5" stroke-linejoin="round" clip-path="url(#cp1)"/>
<path d="M455.70 243.00L457.82 243.69L459.95 244.37L462.07 245.04L464.20 245.71L466.32 246.37L468.45 247.02L470.57 247.68L472.70 248.33L474.82 248.98L476.95 249.62L479.07 250.25L481.20 250.86L483.32 251.45L485.45 252.03L487.57 252.59L489.70 253.14L491.82 253.67L493.95 254.20L496.07 254.71L498.20 255.20" fill="none" stroke="#00ff00" stroke-width="2.9" stroke-linejoin="round" clip-path="url(#cp1)"/>
<path d="M498.20 255.19L500.22 255.36L502.24 255.54L504.26 255.71L506.28 255.89L508.30 256.06L510.32 256.24L512.34 256.42L514.36 256.60L516.38 256.78L518.39 256.97L520.41 257.15L522.43 257.34L524.45 257.53L526.47 257.73L528.49 257.93L530.51 258.13L532.53 258.34L534.55 258.55L536.57 258.77L538.59 258.99L540.61 259.21L542.63 259.45L544.65 259.69L546.67 259.93L548.69 260.18L550.71 260.44L552.73 260.71L554.74 260.98L556.76 261.26L558.78 261.55L560.80 261.85L562.82 262.16L564.84 262.47L566.86 262.80L568.88 263.13L570.90 263.47L572.92 263.83L574.94 264.19L576.96 264.57L578.98 264.95L581.00 265.35L583.02 265.76L585.04 266.18L587.06 266.62L589.07 267.06L591.09 267.52L593.11 268.00L595.13 268.48L597.15 268.98L599.17 269.50L601.19 270.02L603.21 270.57L605.23 271.13L607.25 271.70L609.27 272.29L611.29 272.89L613.31 273.51L615.33 274.15L617.35 274.80L619.37 275.47L621.39 276.16L623.41 276.87L625.42 277.59L627.44 278.33L629.46 279.09L631.48 279.87L633.50 280.67L635.52 281.49L637.54 282.33L639.56 283.20L641.58 284.08L643.60 284.99L645.62 285.93L647.64 286.89L649.66 287.88L651.68 288.90L653.70 289.94L655.72 291.01L657.74 292.12L659.76 293.25L661.77 294.42L663.79 295.62L665.81 296.86L667.83 298.13L669.85 299.43L671.87 300.78L673.89 302.16L675.91 303.58L677.93 305.03L679.95 306.53L681.97 308.07L683.99 309.65L686.01 311.28L688.03 312.94L690.05 314.66L692.07 316.41L694.09 318.22L696.11 320.07L698.12 321.97L700.14 323.92L702.16 325.92L704.18 327.97L706.20 330.08L708.22 332.23L710.24 334.44L712.26 336.71L714.28 339.03L716.30 341.40" fill="none" stroke="#00ff00" stroke-width="2.9" stroke-linejoin="round" clip-path="url(#cp1)"/>
<path d="M455.70 254.60L498.20 255.00" fill="none" stroke="#00ff00" stroke-width="2.1" stroke-dasharray="11.6 5.5" stroke-linejoin="round" clip-path="url(#cp1)"/>
<path d="M455.70 262.80L457.16 264.29L458.60 265.79L460.03 267.30L461.45 268.83L462.86 270.36L464.25 271.91L465.62 273.46L466.98 275.03L468.34 276.61L469.69 278.20L471.04 279.79L472.38 281.39L473.71 283.00L475.02 284.63L476.30 286.27L477.56 287.92L478.79 289.60L479.98 291.29L481.14 293.00L482.28 294.73L483.42 296.49L484.55 298.26L485.65 300.04L486.71 301.85L487.74 303.67L488.72 305.52L489.64 307.37L490.50 309.25L491.28 311.14L492.03 313.07L492.75 315.02L493.43 317.00L494.07 318.99L494.67 321.00L495.23 323.01L495.74 325.03L496.21 327.05L496.64 329.08L497.03 331.12L497.41 333.17L497.76 335.23L498.09 337.28L498.41 339.34L498.70 341.40" fill="none" stroke="#00ff00" stroke-width="2.1" stroke-dasharray="3.6 2.4" stroke-linejoin="round" clip-path="url(#cp1)"/>
<path d="M455.70 299.10L457.73 299.18L459.76 299.27L461.79 299.35L463.82 299.44L465.85 299.52L467.88 299.61L469.91 299.69L471.94 299.78L473.97 299.87L476.00 299.96L478.03 300.04L480.06 300.13L482.09 300.23L484.12 300.32L486.15 300.42L488.18 300.52L490.21 300.62L492.24 300.72L494.27 300.83L496.30 300.93L498.33 301.05L500.36 301.16L502.39 301.28L504.42 301.41L506.45 301.53L508.48 301.67L510.51 301.80L512.54 301.94L514.57 302.09L516.60 302.24L518.63 302.40L520.66 302.56L522.69 302.73L524.72 302.90L526.75 303.09L528.78 303.27L530.81 303.47L532.84 303.67L534.87 303.87L536.90 304.09L538.93 304.31L540.96 304.54L542.99 304.78L545.02 305.02L547.05 305.28L549.08 305.54L551.11 305.81L553.14 306.09L555.17 306.38L557.20 306.68L559.23 306.99L561.27 307.31L563.30 307.64L565.33 307.97L567.36 308.32L569.39 308.68L571.42 309.05L573.45 309.43L575.48 309.83L577.51 310.23L579.54 310.65L581.57 311.07L583.60 311.51L585.63 311.96L587.66 312.43L589.69 312.91L591.72 313.40L593.75 313.90L595.78 314.42L597.81 314.95L599.84 315.49L601.87 316.05L603.90 316.62L605.93 317.20L607.96 317.80L609.99 318.42L612.02 319.05L614.05 319.70L616.08 320.36L618.11 321.03L620.14 321.73L622.17 322.44L624.20 323.16L626.23 323.90L628.26 324.66L630.29 325.43L632.32 326.23L634.35 327.04L636.38 327.86L638.41 328.71L640.44 329.57L642.47 330.45L644.50 331.35L646.53 332.27L648.56 333.20L650.59 334.16L652.62 335.13L654.65 336.13L656.68 337.14L658.71 338.17L660.74 339.23L662.77 340.30L664.80 341.39" fill="none" stroke="#ffa500" stroke-width="2.9" stroke-linejoin="round" clip-path="url(#cp1)"/>
<path d="M789.50 53.20L791.39 54.01L793.26 54.82L795.14 55.66L797.00 56.50L798.86 57.36L800.72 58.23L802.56 59.11L804.40 60.00L806.23 60.90L808.06 61.82L809.88 62.75L811.69 63.69L813.49 64.64L815.29 65.60L817.09 66.57L818.88 67.55L820.67 68.55L822.46 69.56L824.24 70.58L826.01 71.61L827.77 72.66L829.53 73.73L831.27 74.80L833.00 75.90L834.72 77.00L836.42 78.13L838.10 79.27L839.77 80.42L841.43 81.60L843.09 82.79L844.74 84.01L846.38 85.25L848.00 86.51L849.62 87.78L851.21 89.08L852.79 90.39L854.35 91.73L855.89 93.08L857.40 94.45L858.89 95.84L860.35 97.24L861.80 98.67L863.26 100.11L864.72 101.58L866.16 103.08L867.59 104.59L868.98 106.13L870.34 107.70L871.64 109.29L872.89 110.91L874.06 112.55L875.16 114.22L876.19 115.92L877.20 117.67L878.19 119.46L879.16 121.30L880.09 123.16L880.97 125.06L881.79 126.97L882.53 128.90L883.17 130.85L883.72 132.80L884.16 134.75L884.54 136.73L884.88 138.74L885.19 140.77L885.47 142.82L885.70 144.87L885.91 146.91L886.09 148.94L886.26 150.98L886.42 153.02L886.57 155.06L886.68 157.10L886.76 159.15L886.80 161.19L886.83 163.23L886.85 165.28L886.87 167.32L886.88 169.36L886.89 171.41L886.90 173.45L886.90 175.50" fill="none" stroke="#0000ff" stroke-width="2.9" stroke-linejoin="round" clip-path="url(#cp2)"/>
<path d="M886.90 175.50L888.93 175.91L890.96 176.33L892.99 176.77L895.01 177.22L897.04 177.68L899.07 178.16L901.10 178.64L903.13 179.14L905.16 179.65L907.18 180.18L909.21 180.71L911.24 181.25L913.27 181.80L915.30 182.37L917.33 182.95L919.35 183.54L921.38 184.15L923.41 184.77L925.44 185.41L927.47 186.07L929.50 186.73L931.52 187.42L933.55 188.11L935.58 188.83L937.61 189.56L939.64 190.30L941.67 191.07L943.70 191.86L945.72 192.66L947.75 193.49L949.78 194.33L951.81 195.20L953.84 196.09L955.87 197.01L957.89 197.94L959.92 198.90L961.95 199.88L963.98 200.89L966.01 201.92L968.04 202.99L970.06 204.09L972.09 205.21L974.12 206.37L976.15 207.56L978.18 208.78L980.21 210.04L982.24 211.33L984.26 212.65L986.29 214.01L988.32 215.40L990.35 216.83L992.38 218.32L994.41 219.87L996.43 221.47L998.46 223.12L1000.49 224.82L1002.52 226.57L1004.55 228.35L1006.58 230.18L1008.60 232.03L1010.63 233.92L1012.66 235.83L1014.69 237.77L1016.72 239.75L1018.75 241.79L1020.78 243.91L1022.80 246.09L1024.83 248.37L1026.86 250.73L1028.89 253.17L1030.92 255.72L1032.95 258.36L1034.97 261.13L1037.00 264.02L1039.03 267.06L1041.06 270.45L1043.09 274.11L1045.12 277.85L1047.14 281.49L1049.17 284.83L1051.20 288.21L1053.23 291.51L1055.26 294.26L1057.29 295.99L1059.31 297.04L1061.34 297.90L1063.37 298.78L1065.40 299.60" fill="none" stroke="#0000ff" stroke-width="2.9" stroke-linejoin="round" clip-path="url(#cp2)"/>
<path d="M1061.80 298.10L1063.98 298.74L1065.61 299.78L1066.81 301.51L1067.62 303.56L1068.10 305.57L1068.48 307.66L1068.76 309.79L1068.99 311.89L1069.18 313.99L1069.35 316.09L1069.49 318.20L1069.61 320.31L1069.72 322.42L1069.82 324.52L1069.92 326.63L1070.02 328.74L1070.11 330.85L1070.19 332.96L1070.26 335.07L1070.32 337.18L1070.37 339.29L1070.40 341.40" fill="none" stroke="#0000ff" stroke-width="2.9" stroke-linejoin="round" clip-path="url(#cp2)"/>
<path d="M834.40 167.80L836.50 168.06L838.60 168.33L840.70 168.60L842.80 168.87L844.90 169.15L847.00 169.42L849.10 169.70L851.20 169.99L853.30 170.27L855.40 170.56L857.50 170.85L859.60 171.14L861.70 171.44L863.80 171.74L865.90 172.04L868.00 172.34L870.10 172.65L872.20 172.96L874.30 173.27L876.40 173.59L878.50 173.90L880.60 174.22L882.70 174.55L884.80 174.87L886.90 175.20" fill="none" stroke="#0000ff" stroke-width="2.1" stroke-dasharray="11.6 5.5" stroke-linejoin="round" clip-path="url(#cp2)"/>
<path d="M874.30 116.40L875.47 118.32L876.57 120.27L877.62 122.23L878.60 124.21L879.50 126.22L880.33 128.24L881.07 130.28L881.72 132.33L882.27 134.40L882.73 136.49L883.13 138.62L883.47 140.77L883.78 142.94L884.07 145.13L884.33 147.31L884.58 149.48L884.81 151.65L885.02 153.82L885.20 156.00" fill="none" stroke="#0000ff" stroke-width="2.1" stroke-dasharray="3.6 2.4" stroke-linejoin="round" clip-path="url(#cp2)"/>
<path d="M789.50 145.60L791.28 146.71L793.04 147.84L794.79 148.99L796.53 150.15L798.25 151.33L799.95 152.53L801.65 153.75L803.33 154.98L804.99 156.23L806.65 157.49L808.29 158.76L809.91 160.05L811.53 161.35L813.13 162.68L814.72 164.03L816.29 165.40L817.85 166.79L819.39 168.20L820.92 169.63L822.43 171.07L823.92 172.53L825.39 173.99L826.84 175.48L828.27 177.00L829.68 178.53L831.08 180.09L832.46 181.65L833.82 183.23L835.18 184.81L836.55 186.39L837.92 187.97L839.28 189.57L840.59 191.20L841.83 192.86L842.98 194.58L844.07 196.35L845.11 198.17L846.09 200.03L846.96 201.92L847.72 203.84L848.44 205.81L849.05 207.82L849.46 209.85L849.74 211.91L849.90 214.00" fill="none" stroke="#c080ff" stroke-width="2.9" stroke-linejoin="round" clip-path="url(#cp2)"/>
<path d="M849.90 214.00L851.92 214.25L853.94 214.50L855.96 214.76L857.98 215.02L860.00 215.29L862.02 215.57L864.04 215.86L866.06 216.16L868.08 216.46L870.10 216.77L872.12 217.09L874.14 217.42L876.17 217.76L878.19 218.10L880.21 218.46L882.23 218.83L884.25 219.20L886.27 219.59L888.29 219.99L890.31 220.40L892.33 220.82L894.35 221.25L896.37 221.69L898.39 222.15L900.41 222.62L902.43 223.10L904.45 223.59L906.47 224.10L908.49 224.62L910.51 225.15L912.53 225.70L914.55 226.26L916.57 226.84L918.59 227.43L920.61 228.04L922.63 228.66L924.65 229.30L926.67 229.95L928.70 230.62L930.72 231.31L932.74 232.01L934.76 232.73L936.78 233.47L938.80 234.22L940.82 234.99L942.84 235.78L944.86 236.59L946.88 237.42L948.90 238.27L950.92 239.13L952.94 240.01L954.96 240.92L956.98 241.84L959.00 242.79L961.02 243.75L963.04 244.74L965.06 245.74L967.08 246.77L969.10 247.82L971.12 248.90L973.14 250.01L975.16 251.14L977.18 252.30L979.20 253.50L981.23 254.73L983.25 256.00L985.27 257.30L987.29 258.64L989.31 260.02L991.33 261.45L993.35 262.92L995.37 264.43L997.39 265.99L999.41 267.60L1001.43 269.26L1003.45 270.97L1005.47 272.74L1007.49 274.56L1009.51 276.44L1011.53 278.38L1013.55 280.38L1015.57 282.44L1017.59 284.57L1019.61 286.76L1021.63 289.02L1023.65 291.35L1025.67 293.74L1027.69 296.21L1029.71 298.76L1031.73 301.38L1033.76 304.08L1035.78 306.85L1037.80 309.71L1039.82 312.64L1041.84 315.64L1043.86 318.70L1045.88 321.83L1047.90 325.00L1049.92 328.22L1051.94 331.47L1053.96 334.76L1055.98 338.08L1058.00 341.42" fill="none" stroke="#c080ff" stroke-width="2.9" stroke-linejoin="round" clip-path="url(#cp2)"/>
<path d="M789.50 146.60L791.25 147.74L792.99 148.90L794.71 150.08L796.41 151.28L798.09 152.50L799.75 153.74L801.40 154.99L803.02 156.27L804.63 157.56L806.22 158.88L807.79 160.20L809.34 161.55L810.87 162.91L812.39 164.28L813.88 165.68L815.37 167.09L816.85 168.52L818.33 169.98L819.80 171.46L821.25 172.96L822.68 174.48L824.09 176.03L825.46 177.59L826.81 179.18L828.11 180.79L829.36 182.42L830.57 184.06L831.72 185.73L832.83 187.43L833.91 189.16L834.97 190.93L835.99 192.72L836.99 194.55L837.96 196.40L838.90 198.26L839.80 200.14L840.66 202.04L841.49 203.94L842.27 205.85L843.01 207.75L843.75 209.68L844.48 211.62L845.18 213.58L845.84 215.56L846.44 217.55L846.96 219.54L847.40 221.55L847.74 223.56L848.05 225.58L848.35 227.61L848.63 229.65L848.88 231.70L849.09 233.76L849.25 235.83L849.36 237.91L849.40 240.00" fill="none" stroke="#c080ff" stroke-width="2.1" stroke-dasharray="3.6 2.4" stroke-linejoin="round" clip-path="url(#cp2)"/>
<path d="M789.50 209.60L849.90 213.30" fill="none" stroke="#c080ff" stroke-width="2.1" stroke-dasharray="11.6 5.5" stroke-dashoffset="5.0" stroke-linejoin="round" clip-path="url(#cp2)"/>
<path d="M789.50 248.50L791.80 249.21L794.10 249.90L796.40 250.59L798.70 251.26L801.00 251.93L803.30 252.58L805.60 253.23L807.90 253.86L810.20 254.49L812.50 255.10" fill="none" stroke="#00ff00" stroke-width="2.9" stroke-linejoin="round" clip-path="url(#cp2)"/>
<path d="M812.50 255.09L814.52 255.37L816.54 255.64L818.56 255.91L820.59 256.18L822.61 256.44L824.63 256.70L826.65 256.95L828.67 257.20L830.69 257.45L832.71 257.70L834.74 257.95L836.76 258.19L838.78 258.44L840.80 258.68L842.82 258.92L844.84 259.17L846.87 259.42L848.89 259.67L850.91 259.92L852.93 260.17L854.95 260.42L856.97 260.68L858.99 260.95L861.02 261.21L863.04 261.49L865.06 261.76L867.08 262.04L869.10 262.33L871.12 262.63L873.14 262.93L875.17 263.24L877.19 263.55L879.21 263.88L881.23 264.21L883.25 264.55L885.27 264.90L887.30 265.26L889.32 265.63L891.34 266.01L893.36 266.41L895.38 266.81L897.40 267.23L899.42 267.66L901.45 268.10L903.47 268.55L905.49 269.02L907.51 269.50L909.53 270.00L911.55 270.51L913.57 271.04L915.60 271.58L917.62 272.14L919.64 272.72L921.66 273.31L923.68 273.92L925.70 274.55L927.73 275.19L929.75 275.86L931.77 276.54L933.79 277.25L935.81 277.97L937.83 278.72L939.85 279.48L941.88 280.27L943.90 281.08L945.92 281.91L947.94 282.77L949.96 283.65L951.98 284.55L954.00 285.48L956.03 286.43L958.05 287.40L960.07 288.41L962.09 289.44L964.11 290.49L966.13 291.58L968.16 292.69L970.18 293.83L972.20 294.99L974.22 296.19L976.24 297.42L978.26 298.68L980.28 299.97L982.31 301.29L984.33 302.64L986.35 304.02L988.37 305.44L990.39 306.89L992.41 308.37L994.43 309.89L996.46 311.44L998.48 313.03L1000.50 314.65L1002.52 316.31L1004.54 318.01L1006.56 319.74L1008.59 321.51L1010.61 323.32L1012.63 325.17L1014.65 327.06L1016.67 328.98L1018.69 330.95L1020.71 332.96L1022.74 335.00L1024.76 337.09L1026.78 339.23L1028.80 341.40" fill="none" stroke="#00ff00" stroke-width="2.9" stroke-linejoin="round" clip-path="url(#cp2)"/>
<path d="M789.50 255.50L812.50 255.50" fill="none" stroke="#00ff00" stroke-width="2.1" stroke-dasharray="11.6 5.5" stroke-linejoin="round" clip-path="url(#cp2)"/>
<path d="M789.50 276.40L790.83 278.08L792.11 279.78L793.35 281.51L794.55 283.27L795.69 285.05L796.78 286.85L797.81 288.67L798.78 290.52L799.71 292.41L800.62 294.33L801.48 296.27L802.31 298.23L803.09 300.21L803.82 302.20L804.51 304.20L805.14 306.20L805.75 308.21L806.32 310.25L806.87 312.29L807.40 314.34L807.90 316.40L808.39 318.47L808.84 320.54L809.28 322.62L809.70 324.69L810.10 326.76L810.49 328.84L810.86 330.92L811.20 333.01L811.52 335.10L811.82 337.20L812.08 339.30L812.30 341.40" fill="none" stroke="#00ff00" stroke-width="2.1" stroke-dasharray="3.6 2.4" stroke-linejoin="round" clip-path="url(#cp2)"/>
<path d="M789.50 300.69L791.54 300.81L793.58 300.92L795.62 301.04L797.66 301.15L799.71 301.27L801.75 301.39L803.79 301.51L805.83 301.63L807.87 301.76L809.91 301.89L811.95 302.02L813.99 302.15L816.03 302.29L818.08 302.43L820.12 302.57L822.16 302.72L824.20 302.87L826.24 303.03L828.28 303.19L830.32 303.36L832.36 303.53L834.40 303.71L836.45 303.89L838.49 304.08L840.53 304.27L842.57 304.47L844.61 304.68L846.65 304.90L848.69 305.12L850.73 305.35L852.77 305.58L854.82 305.83L856.86 306.08L858.90 306.34L860.94 306.61L862.98 306.88L865.02 307.17L867.06 307.47L869.10 307.77L871.14 308.09L873.19 308.41L875.23 308.75L877.27 309.09L879.31 309.45L881.35 309.81L883.39 310.19L885.43 310.58L887.47 310.98L889.51 311.39L891.56 311.82L893.60 312.25L895.64 312.70L897.68 313.16L899.72 313.64L901.76 314.13L903.80 314.63L905.84 315.14L907.88 315.67L909.93 316.22L911.97 316.77L914.01 317.35L916.05 317.93L918.09 318.54L920.13 319.16L922.17 319.79L924.21 320.44L926.25 321.10L928.30 321.78L930.34 322.48L932.38 323.20L934.42 323.93L936.46 324.68L938.50 325.45L940.54 326.23L942.58 327.03L944.62 327.85L946.67 328.69L948.71 329.55L950.75 330.43L952.79 331.32L954.83 332.24L956.87 333.17L958.91 334.13L960.95 335.10L962.99 336.10L965.04 337.12L967.08 338.15L969.12 339.21L971.16 340.29L973.20 341.39" fill="none" stroke="#ffa500" stroke-width="2.9" stroke-linejoin="round" clip-path="url(#cp2)"/>
<rect x="122.20" y="32.00" width="300.10" height="309.60" fill="none" stroke="#000" stroke-width="2.6"/>
<rect x="455.70" y="32.00" width="300.10" height="309.60" fill="none" stroke="#000" stroke-width="2.6"/>
<rect x="789.50" y="32.00" width="300.10" height="309.60" fill="none" stroke="#000" stroke-width="2.6"/>
<path transform="translate(63.10 351.80) scale(0.01147 -0.01147)" d="M545 0V1237L227 1010V1180L560 1409H726V0Z" fill="#000" stroke="#000" stroke-width="0.4" stroke-linejoin="round" vector-effect="non-scaling-stroke"/>
<text x="76.17" y="351.80" font-size="23.5">0</text>
<text x="88.74" y="340.30" font-size="18.0">−7</text>
<path transform="translate(63.10 301.67) scale(0.01147 -0.01147)" d="M545 0V1237L227 1010V1180L560 1409H726V0Z" fill="#000" stroke="#000" stroke-width="0.4" stroke-linejoin="round" vector-effect="non-scaling-stroke"/>
<text x="76.17" y="301.67" font-size="23.5">0</text>
<text x="88.74" y="290.17" font-size="18.0">−6</text>
<path transform="translate(63.10 251.54) scale(0.01147 -0.01147)" d="M545 0V1237L227 1010V1180L560 1409H726V0Z" fill="#000" stroke="#000" stroke-width="0.4" stroke-linejoin="round" vector-effect="non-scaling-stroke"/>
<text x="76.17" y="251.54" font-size="23.5">0</text>
<text x="88.74" y="240.04" font-size="18.0">−5</text>
<path transform="translate(63.10 201.41) scale(0.01147 -0.01147)" d="M545 0V1237L227 1010V1180L560 1409H726V0Z" fill="#000" stroke="#000" stroke-width="0.4" stroke-linejoin="round" vector-effect="non-scaling-stroke"/>
<text x="76.17" y="201.41" font-size="23.5">0</text>
<text x="88.74" y="189.91" font-size="18.0">−4</text>
<path transform="translate(63.10 151.28) scale(0.01147 -0.01147)" d="M545 0V1237L227 1010V1180L560 1409H726V0Z" fill="#000" stroke="#000" stroke-width="0.4" stroke-linejoin="round" vector-effect="non-scaling-stroke"/>
<text x="76.17" y="151.28" font-size="23.5">0</text>
<text x="88.74" y="139.78" font-size="18.0">−3</text>
<path transform="translate(63.10 101.16) scale(0.01147 -0.01147)" d="M545 0V1237L227 1010V1180L560 1409H726V0Z" fill="#000" stroke="#000" stroke-width="0.4" stroke-linejoin="round" vector-effect="non-scaling-stroke"/>
<text x="76.17" y="101.16" font-size="23.5">0</text>
<text x="88.74" y="89.66" font-size="18.0">−2</text>
<path transform="translate(63.10 51.03) scale(0.01147 -0.01147)" d="M545 0V1237L227 1010V1180L560 1409H726V0Z" fill="#000" stroke="#000" stroke-width="0.4" stroke-linejoin="round" vector-effect="non-scaling-stroke"/>
<text x="76.17" y="51.03" font-size="23.5">0</text>
<text x="88.74" y="39.53" font-size="18.0">−</text>
<path transform="translate(99.25 39.53) scale(0.00879 -0.00879)" d="M545 0V1237L227 1010V1180L560 1409H726V0Z" fill="#000" stroke="#000" stroke-width="0.4" stroke-linejoin="round" vector-effect="non-scaling-stroke"/>
<path transform="translate(129.84 370.50) scale(0.01147 -0.01147)" d="M545 0V1237L227 1010V1180L560 1409H726V0Z" fill="#000" stroke="#000" stroke-width="0.4" stroke-linejoin="round" vector-effect="non-scaling-stroke"/>
<path transform="translate(234.50 370.50) scale(0.01147 -0.01147)" d="M545 0V1237L227 1010V1180L560 1409H726V0Z" fill="#000" stroke="#000" stroke-width="0.4" stroke-linejoin="round" vector-effect="non-scaling-stroke"/>
<text x="247.57" y="370.50" font-size="23.5">0</text>
<path transform="translate(339.15 370.50) scale(0.01147 -0.01147)" d="M545 0V1237L227 1010V1180L560 1409H726V0Z" fill="#000" stroke="#000" stroke-width="0.4" stroke-linejoin="round" vector-effect="non-scaling-stroke"/>
<text x="352.22" y="370.50" font-size="23.5">00</text>
<path transform="translate(463.34 370.50) scale(0.01147 -0.01147)" d="M545 0V1237L227 1010V1180L560 1409H726V0Z" fill="#000" stroke="#000" stroke-width="0.4" stroke-linejoin="round" vector-effect="non-scaling-stroke"/>
<path transform="translate(568.00 370.50) scale(0.01147 -0.01147)" d="M545 0V1237L227 1010V1180L560 1409H726V0Z" fill="#000" stroke="#000" stroke-width="0.4" stroke-linejoin="round" vector-effect="non-scaling-stroke"/>
<text x="581.07" y="370.50" font-size="23.5">0</text>
<path transform="translate(672.65 370.50) scale(0.01147 -0.01147)" d="M545 0V1237L227 1010V1180L560 1409H726V0Z" fill="#000" stroke="#000" stroke-width="0.4" stroke-linejoin="round" vector-effect="non-scaling-stroke"/>
<text x="685.72" y="370.50" font-size="23.5">00</text>
<path transform="translate(797.14 370.50) scale(0.01147 -0.01147)" d="M545 0V1237L227 1010V1180L560 1409H726V0Z" fill="#000" stroke="#000" stroke-width="0.4" stroke-linejoin="round" vector-effect="non-scaling-stroke"/>
<path transform="translate(901.80 370.50) scale(0.01147 -0.01147)" d="M545 0V1237L227 1010V1180L560 1409H726V0Z" fill="#000" stroke="#000" stroke-width="0.4" stroke-linejoin="round" vector-effect="non-scaling-stroke"/>
<text x="914.87" y="370.50" font-size="23.5">0</text>
<path transform="translate(1006.45 370.50) scale(0.01147 -0.01147)" d="M545 0V1237L227 1010V1180L560 1409H726V0Z" fill="#000" stroke="#000" stroke-width="0.4" stroke-linejoin="round" vector-effect="non-scaling-stroke"/>
<text x="1019.52" y="370.50" font-size="23.5">00</text>
<text x="233.40" y="22.00" font-size="25">z</text>
<text x="246.50" y="29.30" font-size="20">s</text>
<text x="255.80" y="22.00" font-size="26">=0.</text>
<path transform="translate(292.67 22.00) scale(0.01270 -0.01270)" d="M545 0V1237L227 1010V1180L560 1409H726V0Z" fill="#000" stroke="#000" stroke-width="0.4" stroke-linejoin="round" vector-effect="non-scaling-stroke"/>
<text x="566.90" y="22.00" font-size="25">z</text>
<text x="580.00" y="29.30" font-size="20">s</text>
<text x="589.30" y="22.00" font-size="26">=0.3</text>
<text x="900.70" y="22.00" font-size="25">z</text>
<text x="913.80" y="29.30" font-size="20">s</text>
<text x="923.10" y="22.00" font-size="26">=0.5</text>
<text transform="translate(555.7 403.0) scale(1.18 1)" x="0" y="0" font-size="36.5" class="ser" style="stroke-width:0.45px">θ</text>
<text x="589.5" y="398.3" font-size="24.3">(arcmin)</text>
<g transform="translate(32.9 263.4) rotate(-90)"><text x="0" y="0" font-size="29.5"><tspan letter-spacing="0.75">(yDM)</tspan><tspan font-size="20.5" dy="5.5" dx="-0.4">host</tspan><tspan dy="-5.5" dx="3.7">(θ)</tspan><tspan font-size="24.35" dx="4.6">(pc/cm</tspan><tspan font-size="19" dy="-12.5">3</tspan><tspan font-size="24.35" dy="12.5">)</tspan></text></g>
<text x="244.80" y="87.70" font-size="22.5" style="fill:#0000ff;stroke:#0000ff">M</text>
<text x="263.54" y="94.60" font-size="18" style="fill:#0000ff;stroke:#0000ff">host</text>
<text x="298.37" y="87.70" font-size="22.5" style="fill:#0000ff;stroke:#0000ff">=</text>
<path transform="translate(311.50 87.70) scale(0.01099 -0.01099)" d="M545 0V1237L227 1010V1180L560 1409H726V0Z" fill="#0000ff" stroke="#0000ff" stroke-width="0.4" stroke-linejoin="round" vector-effect="non-scaling-stroke"/>
<text x="324.02" y="87.70" font-size="22.5" style="fill:#0000ff;stroke:#0000ff">0</text>
<path transform="translate(338.03 76.50) scale(0.00879 -0.00879)" d="M545 0V1237L227 1010V1180L560 1409H726V0Z" fill="#0000ff" stroke="#0000ff" stroke-width="0.4" stroke-linejoin="round" vector-effect="non-scaling-stroke"/>
<text x="348.04" y="76.50" font-size="18" style="fill:#0000ff;stroke:#0000ff">5</text>
<text x="300.60" y="110.80" font-size="20" style="fill:#0000ff;stroke:#0000ff">(M</text>
<text x="323.92" y="116.80" font-size="16" style="fill:#0000ff;stroke:#0000ff">sun</text>
<text x="349.72" y="110.80" font-size="20" style="fill:#0000ff;stroke:#0000ff">/h)</text>
<path transform="translate(179.10 148.00) scale(0.01147 -0.01147)" d="M545 0V1237L227 1010V1180L560 1409H726V0Z" fill="#c080ff" stroke="#c080ff" stroke-width="0.4" stroke-linejoin="round" vector-effect="non-scaling-stroke"/>
<text x="192.17" y="148.00" font-size="23.5" style="fill:#c080ff;stroke:#c080ff">0</text>
<path transform="translate(204.24 136.00) scale(0.00879 -0.00879)" d="M545 0V1237L227 1010V1180L560 1409H726V0Z" fill="#c080ff" stroke="#c080ff" stroke-width="0.4" stroke-linejoin="round" vector-effect="non-scaling-stroke"/>
<text x="214.25" y="136.00" font-size="18" style="fill:#c080ff;stroke:#c080ff">4</text>
<path transform="translate(201.00 290.20) scale(0.01147 -0.01147)" d="M545 0V1237L227 1010V1180L560 1409H726V0Z" fill="#00ff00" stroke="#00ff00" stroke-width="0.4" stroke-linejoin="round" vector-effect="non-scaling-stroke"/>
<text x="214.07" y="290.20" font-size="23.5" style="fill:#00ff00;stroke:#00ff00">0</text>
<path transform="translate(226.84 278.20) scale(0.00879 -0.00879)" d="M545 0V1237L227 1010V1180L560 1409H726V0Z" fill="#00ff00" stroke="#00ff00" stroke-width="0.4" stroke-linejoin="round" vector-effect="non-scaling-stroke"/>
<text x="236.85" y="278.20" font-size="18" style="fill:#00ff00;stroke:#00ff00">3</text>
<path transform="translate(145.60 331.10) scale(0.01147 -0.01147)" d="M545 0V1237L227 1010V1180L560 1409H726V0Z" fill="#ffa500" stroke="#ffa500" stroke-width="0.4" stroke-linejoin="round" vector-effect="non-scaling-stroke"/>
<text x="158.67" y="331.10" font-size="23.5" style="fill:#ffa500;stroke:#ffa500">0</text>
<path transform="translate(170.94 319.30) scale(0.00879 -0.00879)" d="M545 0V1237L227 1010V1180L560 1409H726V0Z" fill="#ffa500" stroke="#ffa500" stroke-width="0.4" stroke-linejoin="round" vector-effect="non-scaling-stroke"/>
<text x="180.95" y="319.30" font-size="18" style="fill:#ffa500;stroke:#ffa500">2</text>
<text x="590.30" y="213.40" font-size="23.5" style="fill:#ff0000;stroke:#ff0000">w</text>
<text x="607.87" y="220.60" font-size="20.5" style="fill:#ff0000;stroke:#ff0000">yDM</text>
</svg></body></html>
